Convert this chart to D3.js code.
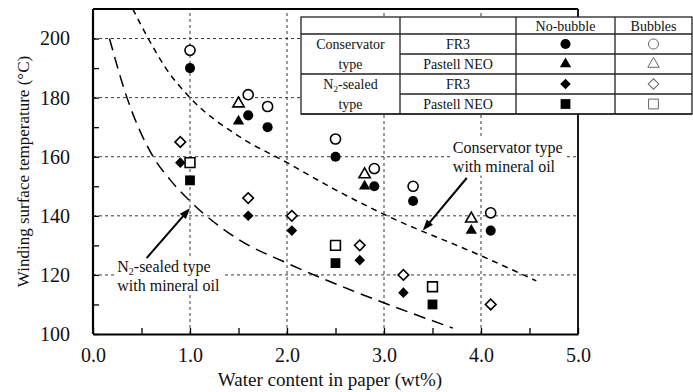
<!DOCTYPE html>
<html>
<head>
<meta charset="utf-8">
<script src="https://cdn.jsdelivr.net/npm/d3@7"></script>
</head>
<body style="margin:0; background:#fff">
<svg id="chart" width="693" height="392" font-family="Liberation Serif" style="display:block"></svg>
<script>
// water content (wt%) and winding surface temperature (°C)
const consFr3X = [1.0, 1.6, 1.8, 2.5, 2.9, 3.3, 4.1]
const consFr3NoBubble = [190, 174, 170, 160, 150, 145, 135]
const consFr3Bubble = [196, 181, 177, 166, 156, 150, 141]

const consNeoX = [1.5, 2.8, 3.9]
const consNeoNoBubble = [172, 150, 135]
const consNeoBubble = [178, 154, 139]

const n2Fr3X = [0.9, 1.6, 2.05, 2.75, 3.2]
const n2Fr3NoBubble = [158, 140, 135, 125, 114]
const n2Fr3BubbleX = [0.9, 1.6, 2.05, 2.75, 3.2, 4.1]
const n2Fr3Bubble = [165, 146, 140, 130, 120, 110]

const n2NeoX = [1.0, 2.5, 3.5]
const n2NeoNoBubble = [152, 124, 110]
const n2NeoBubble = [158, 130, 116]

// mineral oil limit curves
const consMineralX = [0.41, 0.57, 0.75, 1.0, 1.5, 2.0, 2.5, 3.0, 4.0, 4.57]
const consMineralY = [210, 200, 190, 180, 167, 158, 148.8, 140.5, 126.5, 118]
const n2MineralX = [0.17, 0.35, 0.62, 0.8, 1.0, 1.5, 2.0, 2.65, 3.71]
const n2MineralY = [200, 180, 160, 152, 145, 132, 124, 115, 102]

const xTicks = [0, 0.5, 1, 1.5, 2, 2.5, 3, 3.5, 4, 4.5, 5]
const yTicks = [100, 110, 120, 130, 140, 150, 160, 170, 180, 190, 200]
const xGrid = [1, 2, 3, 4]
const yGrid = [120, 140, 160, 180, 200]

const legendRows = [
  {group: "Conservator", oil: "FR3", shape: "circle"},
  {group: "type", oil: "Pastell NEO", shape: "triangle"},
  {group: "N2-sealed", oil: "FR3", shape: "diamond"},
  {group: "type", oil: "Pastell NEO", shape: "square"}
]

const FONT = "Liberation Serif"
const svg = d3.select("#chart")
const x = d3.scaleLinear().domain([0, 5]).range([93, 578])
const y = d3.scaleLinear().domain([100, 210]).range([334, 9])

// grid
const grid = svg.append("g").attr("stroke", "#222").attr("stroke-width", 0.9).attr("stroke-dasharray", "3,3")
grid.selectAll("line.v").data(xGrid).enter().append("line")
  .attr("x1", d => x(d)).attr("x2", d => x(d)).attr("y1", y(100)).attr("y2", y(210))
grid.selectAll("line.h").data(yGrid).enter().append("line")
  .attr("x1", x(0)).attr("x2", x(5)).attr("y1", d => y(d)).attr("y2", d => y(d))

// mineral oil curves
const line = d3.line().curve(d3.curveMonotoneX).x(d => x(d[0])).y(d => y(d[1]))
svg.append("path").datum(d3.zip(consMineralX, consMineralY))
  .attr("d", line).attr("fill", "none").attr("stroke", "#000").attr("stroke-width", 1.5)
  .attr("stroke-dasharray", "6,5")
svg.append("path").datum(d3.zip(n2MineralX, n2MineralY))
  .attr("d", line).attr("fill", "none").attr("stroke", "#000").attr("stroke-width", 1.5)
  .attr("stroke-dasharray", "12,7")

// annotations
function annotate(lines, tx, ty, from, to) {
  const g = svg.append("g")
  const t = g.append("text").attr("font-family", FONT).attr("font-size", 16).attr("fill", "#111")
  lines.forEach((l, i) => {
    const ts = t.append("tspan").attr("x", x(tx)).attr("y", y(ty) + i * 19)
    if (l.startsWith("N2")) {
      ts.text("N")
      ts.append("tspan").attr("font-size", 10).attr("dy", 3).text("2")
      ts.append("tspan").attr("dy", -3).text(l.slice(2))
    } else {
      ts.text(l)
    }
  })
  const b = t.node().getBBox()
  g.insert("rect", "text").attr("x", b.x - 2).attr("y", b.y - 1)
    .attr("width", b.width + 4).attr("height", b.height + 2).attr("fill", "#fff")
  const x1 = x(from[0]), y1 = y(from[1]), x2 = x(to[0]), y2 = y(to[1])
  const ang = Math.atan2(y2 - y1, x2 - x1)
  const hl = 11, hw = 4
  g.append("line").attr("x1", x1).attr("y1", y1)
    .attr("x2", x2 - Math.cos(ang) * hl * 0.8).attr("y2", y2 - Math.sin(ang) * hl * 0.8)
    .attr("stroke", "#000").attr("stroke-width", 2)
  const bx = x2 - Math.cos(ang) * hl, by = y2 - Math.sin(ang) * hl
  g.append("path").attr("fill", "#000").attr("d",
    `M${x2},${y2}L${bx - Math.sin(ang) * hw},${by + Math.cos(ang) * hw}L${bx + Math.sin(ang) * hw},${by - Math.cos(ang) * hw}Z`)
}
annotate(["Conservator type", "with mineral oil"], 3.71, 161.4, [3.853, 152.8], [3.40, 135.0])
annotate(["N2-sealed type", "with mineral oil"], 0.25, 121, [0.553, 125.7], [1.0, 142.6])

// markers
const symbols = {
  circle: d3.symbol(d3.symbolCircle, 80),
  triangle: d3.symbol(d3.symbolTriangle, 56),
  square: d3.symbol(d3.symbolSquare, 96),
  diamond: d3.symbol(d3.symbolSquare, 56)
}
function drawSeries(xs, ys, shape, filled) {
  svg.append("g").selectAll("path").data(d3.zip(xs, ys)).enter().append("path")
    .attr("d", symbols[shape])
    .attr("transform", d => `translate(${x(d[0])},${y(d[1])})` + (shape === "diamond" ? " rotate(45)" : ""))
    .attr("fill", filled ? "#000" : "#fff")
    .attr("stroke", "#000").attr("stroke-width", filled ? 0 : 1.6)
}
drawSeries(consFr3X, consFr3NoBubble, "circle", true)
drawSeries(consFr3X, consFr3Bubble, "circle", false)
drawSeries(consNeoX, consNeoNoBubble, "triangle", true)
drawSeries(consNeoX, consNeoBubble, "triangle", false)
drawSeries(n2Fr3X, n2Fr3NoBubble, "diamond", true)
drawSeries(n2Fr3BubbleX, n2Fr3Bubble, "diamond", false)
drawSeries(n2NeoX, n2NeoNoBubble, "square", true)
drawSeries(n2NeoX, n2NeoBubble, "square", false)

// axes
const fmtX = d => Number.isInteger(d) ? d3.format(".1f")(d) : ""
const fmtY = d => d % 20 === 0 ? d : ""
const xAxis = svg.append("g").attr("transform", `translate(0,${y(100)})`)
  .call(d3.axisBottom(x).tickValues(xTicks).tickFormat(fmtX).tickSizeInner(-6).tickSizeOuter(0).tickPadding(14))
const yAxis = svg.append("g").attr("transform", `translate(${x(0)},0)`)
  .call(d3.axisLeft(y).tickValues(yTicks).tickFormat(fmtY).tickSizeInner(-6).tickSizeOuter(0).tickPadding(23))
;[xAxis, yAxis].forEach(a => {
  a.attr("font-family", FONT).attr("font-size", 20)
  a.select(".domain").attr("stroke-width", 2.2)
  a.selectAll(".tick line").attr("stroke-width", 1.3)
  a.selectAll("text").attr("fill", "#111")
})
yAxis.select(".domain").attr("d", `M0,${y(210)}V${y(100)}`)
svg.append("line").attr("x1", x(0)).attr("x2", x(5)).attr("y1", y(210)).attr("y2", y(210))
  .attr("stroke", "#000").attr("stroke-width", 1.8)
svg.append("line").attr("x1", x(5)).attr("x2", x(5)).attr("y1", y(210)).attr("y2", y(100))
  .attr("stroke", "#000").attr("stroke-width", 1.8)

svg.append("text").attr("x", 330).attr("y", 386).attr("text-anchor", "middle")
  .attr("font-family", FONT).attr("font-size", 19).attr("fill", "#111").text("Water content in paper (wt%)")
svg.append("text").attr("transform", `translate(29,${(y(100) + y(210)) / 2}) rotate(-90)`)
  .attr("text-anchor", "middle").attr("font-family", FONT).attr("font-size", 17).attr("fill", "#111")
  .text("Winding surface temperature (°C)")

// legend table
const cols = [301, 400, 516, 615, 692]
const rowsY = [17, 34, 54, 74, 94, 114]
const tb = svg.append("g").attr("font-family", FONT).attr("font-size", 14).attr("fill", "#111")
tb.append("rect").attr("x", cols[0]).attr("y", rowsY[0])
  .attr("width", cols[4] - cols[0]).attr("height", rowsY[5] - rowsY[0])
  .attr("fill", "#fff").attr("stroke", "#222").attr("stroke-width", 1.3)
const tl = tb.append("g").attr("stroke", "#222").attr("stroke-width", 1.3)
;[1, 3, 5].forEach(i => tl.append("line").attr("x1", cols[0]).attr("x2", cols[4]).attr("y1", rowsY[i]).attr("y2", rowsY[i]))
;[2, 4].forEach(i => tl.append("line").attr("x1", cols[1]).attr("x2", cols[4]).attr("y1", rowsY[i]).attr("y2", rowsY[i]))
;[1, 2, 3].forEach(i => tl.append("line").attr("x1", cols[i]).attr("x2", cols[i]).attr("y1", rowsY[0]).attr("y2", rowsY[5]))

const mid = (a, b) => (a + b) / 2
tb.append("text").attr("x", mid(cols[2], cols[3])).attr("y", mid(rowsY[0], rowsY[1]) + 5)
  .attr("text-anchor", "middle").text("No-bubble")
tb.append("text").attr("x", mid(cols[3], cols[4])).attr("y", mid(rowsY[0], rowsY[1]) + 5)
  .attr("text-anchor", "middle").text("Bubbles")
legendRows.forEach((r, i) => {
  const cy = mid(rowsY[i + 1], rowsY[i + 2])
  const gt = tb.append("text").attr("x", mid(cols[0], cols[1])).attr("y", cy + 5).attr("text-anchor", "middle")
  if (r.group.startsWith("N2")) {
    gt.text("N")
    gt.append("tspan").attr("font-size", 9).attr("dy", 3).text("2")
    gt.append("tspan").attr("dy", -3).text(r.group.slice(2))
  } else gt.text(r.group)
  tb.append("text").attr("x", mid(cols[1], cols[2])).attr("y", cy + 5).attr("text-anchor", "middle").text(r.oil)
  tb.append("path").attr("d", symbols[r.shape])
    .attr("transform", `translate(${mid(cols[2], cols[3])},${cy})` + (r.shape === "diamond" ? " rotate(45)" : ""))
    .attr("fill", "#000")
  tb.append("path").attr("d", symbols[r.shape])
    .attr("transform", `translate(${mid(cols[3], cols[4])},${cy})` + (r.shape === "diamond" ? " rotate(45)" : ""))
    .attr("fill", "#fff").attr("stroke", "#666").attr("stroke-width", 1)
})
</script>
</body>
</html>
